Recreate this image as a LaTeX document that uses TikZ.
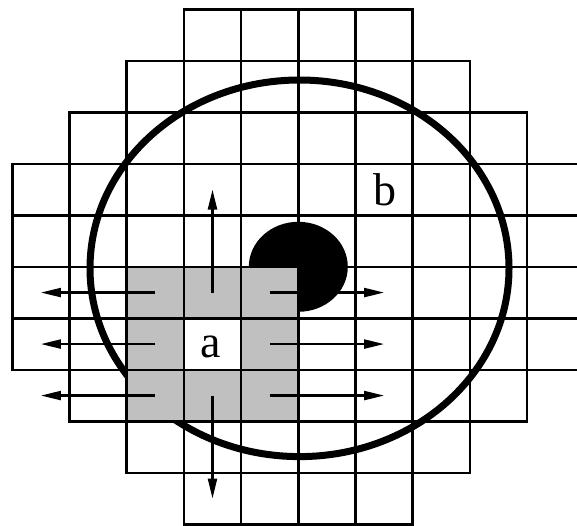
\documentclass[tikz,border=0pt]{standalone}
\usepackage{fontspec}
\setmainfont{Liberation Serif}
\usetikzlibrary{arrows.meta}
\definecolor{cellgray}{RGB}{192,192,192}
\tikzset{
  gridline/.style={line width=2.5pt, draw=black},
  bigring/.style={line width=7pt, draw=black},
  outarrow/.style={line width=2.2pt, -{Triangle[length=20pt, width=9pt]}},
  lab/.style={inner sep=0pt, anchor=base, font=\fontsize{46}{50}\selectfont},
}
\begin{document}
\begin{tikzpicture}[x=1pt, y=-1pt]
  \useasboundingbox (0,0) rectangle (577,525);
  \clip (0,0) rectangle (577,525);
  % cell centres
  \foreach \i in {0,...,9} {
    \foreach \j in {0,...,9} {
      \coordinate (c-\i-\j) at ({12.3+57.2*(\i+0.5)},{9.3+51.5*(\j+0.5)});
    }
  }
  % big ring
  \draw[bigring] (299.5,268.3) ellipse [x radius=209.5pt, y radius=188.3pt];
  % black blob
  \fill[black] (298.3,266.8) ellipse [x radius=49.5pt, y radius=45pt];
  % grey 3x3 block with white centre
  \fill[cellgray] ({12.3+57.2*2},{9.3+51.5*5}) rectangle ({12.3+57.2*5},{9.3+51.5*8});
  \fill[white] ({12.3+57.2*3},{9.3+51.5*6}) rectangle ({12.3+57.2*4},{9.3+51.5*7});
  % grid
  \foreach \j/\lo/\hi in {0/3/6, 1/2/7, 2/1/8, 3/0/9, 4/0/9, 5/0/9, 6/0/9, 7/1/8, 8/2/7, 9/3/6} {
    \foreach \i in {\lo,...,\hi} {
      \draw[gridline] ({12.3+57.2*\i},{9.3+51.5*\j}) rectangle ({12.3+57.2*(\i+1)},{9.3+51.5*(\j+1)});
    }
  }
  % arrows
  \foreach \j in {5,6,7} {
    \draw[outarrow] (c-2-\j) -- (c-0-\j);
    \draw[outarrow] (c-4-\j) -- (c-6-\j);
  }
  \draw[outarrow] (c-3-5) -- (c-3-3);
  \draw[outarrow] (c-3-7) -- (c-3-9);
  % labels
  \node[lab] (a) at (211,357) {a};
  \node[lab] (b) at (384.7,205) {b};
\end{tikzpicture}
\end{document}
